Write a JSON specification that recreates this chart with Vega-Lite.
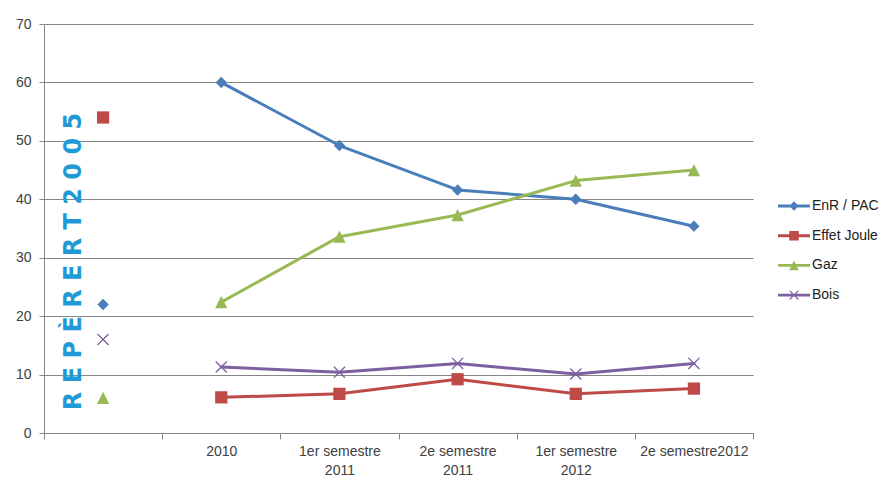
{
  "$schema": "https://vega.github.io/schema/vega-lite/v6.json",
  "width": 709,
  "height": 409,
  "autosize": {"type": "none"},
  "padding": {"left": 44, "top": 24, "right": 132, "bottom": 44},
  "background": "#ffffff",
  "config": {
    "view": {"stroke": null},
    "font": "Liberation Sans",
    "axis": {
      "labelFont": "Liberation Sans",
      "labelFontSize": 14,
      "labelColor": "#404040",
      "domainColor": "#868686",
      "tickColor": "#868686",
      "gridColor": "#868686",
      "title": null
    }
  },
  "datasets": {
    "series": [
      {"c": "RT 2005", "s": "EnR / PAC", "v": 22},
      {"c": "2010", "s": "EnR / PAC", "v": 60},
      {"c": "1er semestre|2011", "s": "EnR / PAC", "v": 49.2},
      {"c": "2e semestre|2011", "s": "EnR / PAC", "v": 41.6},
      {"c": "1er semestre|2012", "s": "EnR / PAC", "v": 40},
      {"c": "2e semestre2012", "s": "EnR / PAC", "v": 35.4},
      {"c": "RT 2005", "s": "Effet Joule", "v": 54},
      {"c": "2010", "s": "Effet Joule", "v": 6.1},
      {"c": "1er semestre|2011", "s": "Effet Joule", "v": 6.7},
      {"c": "2e semestre|2011", "s": "Effet Joule", "v": 9.2},
      {"c": "1er semestre|2012", "s": "Effet Joule", "v": 6.7},
      {"c": "2e semestre2012", "s": "Effet Joule", "v": 7.6},
      {"c": "RT 2005", "s": "Gaz", "v": 6},
      {"c": "2010", "s": "Gaz", "v": 22.4},
      {"c": "1er semestre|2011", "s": "Gaz", "v": 33.6},
      {"c": "2e semestre|2011", "s": "Gaz", "v": 37.3},
      {"c": "1er semestre|2012", "s": "Gaz", "v": 43.2},
      {"c": "2e semestre2012", "s": "Gaz", "v": 45},
      {"c": "RT 2005", "s": "Bois", "v": 16},
      {"c": "2010", "s": "Bois", "v": 11.3},
      {"c": "1er semestre|2011", "s": "Bois", "v": 10.4},
      {"c": "2e semestre|2011", "s": "Bois", "v": 11.9},
      {"c": "1er semestre|2012", "s": "Bois", "v": 10.1},
      {"c": "2e semestre2012", "s": "Bois", "v": 11.9}
    ],
    "banner": [{"t": "R E P È R E   R T   2 0 0 5"}]
  },
  "layer": [
    {
      "data": {"name": "series"},
      "transform": [{"filter": "datum.c != 'RT 2005'"}],
      "mark": {"type": "line", "strokeWidth": 3, "strokeJoin": "round", "strokeCap": "round"},
      "encoding": {
        "x": {
          "field": "c", "type": "nominal", "bandPosition": 0.5,
          "sort": ["RT 2005", "2010", "1er semestre|2011", "2e semestre|2011", "1er semestre|2012", "2e semestre2012"],
          "scale": {"type": "band", "domain": ["RT 2005", "2010", "1er semestre|2011", "2e semestre|2011", "1er semestre|2012", "2e semestre2012"], "paddingInner": 0, "paddingOuter": 0},
          "axis": {
            "labelAngle": 0,
            "tickBand": "extent",
            "tickSize": 6,
            "labelPadding": 5,
            "labelLineHeight": 19,
            "labelOverlap": false,
            "grid": false,
            "labelExpr": "isString(datum.value) && datum.value != 'RT 2005' ? split(datum.value, '|') : ''"
          }
        },
        "y": {
          "field": "v", "type": "quantitative",
          "scale": {"domain": [0, 70], "nice": false},
          "axis": {"values": [0, 10, 20, 30, 40, 50, 60, 70], "grid": true, "tickSize": 5, "labelPadding": 8}
        },
        "color": {
          "field": "s", "type": "nominal",
          "scale": {"domain": ["EnR / PAC", "Effet Joule", "Gaz", "Bois"], "range": ["#4a7ebb", "#be4b48", "#98b954", "#7d60a0"]},
          "legend": {
            "title": null,
            "orient": "none",
            "legendX": 734,
            "legendY": 166,
            "symbolSize": 1024,
            "symbolType": "M-1,-0.09H1V0.09H-1Z",
            "symbolOpacity": 1,
            "symbolStrokeWidth": 0,
            "labelFont": "Liberation Sans",
            "labelFontSize": 14,
            "labelColor": "#222222",
            "labelOffset": 2,
            "rowPadding": 6.7,
            "encode": {
              "symbols": {
                "update": {
                  "fill": {"signal": "scale('color', datum.value)"},
                  "strokeWidth": {"value": 0},
                  "opacity": {"value": 1},
                  "shape": {"signal": "datum.value == 'EnR / PAC' ? 'M-1,-0.09H1V0.09H-1Z M0,-0.3L0.3,0L0,0.3L-0.3,0Z' : datum.value == 'Effet Joule' ? 'M-1,-0.09H1V0.09H-1Z M-0.3,-0.3H0.3V0.3H-0.3Z' : datum.value == 'Gaz' ? 'M-1,-0.09H1V0.09H-1Z M0,-0.3L0.3,0.3H-0.3Z' : 'M-1,-0.09H1V0.09H-1Z M-0.3,-0.25L-0.25,-0.3L0.3,0.25L0.25,0.3Z M-0.3,0.25L0.25,-0.3L0.3,-0.25L-0.25,0.3Z'"}
                }
              }
            }
          }
        }
      }
    },
    {
      "data": {"name": "series"},
      "transform": [{"filter": "datum.s == 'EnR / PAC'"}],
      "mark": {"type": "point", "filled": true, "opacity": 1, "size": 130, "strokeWidth": 0, "shape": "M0,-1L1,0L0,1L-1,0Z"},
      "encoding": {
        "x": {"field": "c", "type": "nominal", "bandPosition": 0.5},
        "y": {"field": "v", "type": "quantitative"},
        "color": {"field": "s", "type": "nominal"}
      }
    },
    {
      "data": {"name": "series"},
      "transform": [{"filter": "datum.s == 'Effet Joule'"}],
      "mark": {"type": "point", "filled": true, "opacity": 1, "size": 150, "strokeWidth": 0, "shape": "M-1,-1H1V1H-1Z"},
      "encoding": {
        "x": {"field": "c", "type": "nominal", "bandPosition": 0.5},
        "y": {"field": "v", "type": "quantitative"},
        "color": {"field": "s", "type": "nominal"}
      }
    },
    {
      "data": {"name": "series"},
      "transform": [{"filter": "datum.s == 'Gaz'"}],
      "mark": {"type": "point", "filled": true, "opacity": 1, "size": 150, "strokeWidth": 0, "shape": "M0,-1L1,1H-1Z"},
      "encoding": {
        "x": {"field": "c", "type": "nominal", "bandPosition": 0.5},
        "y": {"field": "v", "type": "quantitative"},
        "color": {"field": "s", "type": "nominal"}
      }
    },
    {
      "data": {"name": "series"},
      "transform": [{"filter": "datum.s == 'Bois'"}],
      "mark": {"type": "point", "filled": true, "opacity": 1, "size": 144, "strokeWidth": 0, "shape": "M-1,-0.85L-0.85,-1L1,0.85L0.85,1Z M-1,0.85L0.85,-1L1,-0.85L-0.85,1Z"},
      "encoding": {
        "x": {"field": "c", "type": "nominal", "bandPosition": 0.5},
        "y": {"field": "v", "type": "quantitative"},
        "color": {"field": "s", "type": "nominal"}
      }
    },
    {
      "data": {"name": "banner"},
      "mark": {
        "type": "text",
        "angle": 270,
        "font": "DejaVu Sans",
        "fontWeight": "bold",
        "fontSize": 24,
        "color": "#1f9ad6",
        "align": "center",
        "baseline": "middle",
        "xOffset": -29
      },
      "encoding": {
        "x": {"datum": "RT 2005", "type": "nominal", "bandPosition": 0.5},
        "y": {"datum": 29.35, "type": "quantitative"},
        "text": {"field": "t", "type": "nominal"}
      }
    }
  ]
}
